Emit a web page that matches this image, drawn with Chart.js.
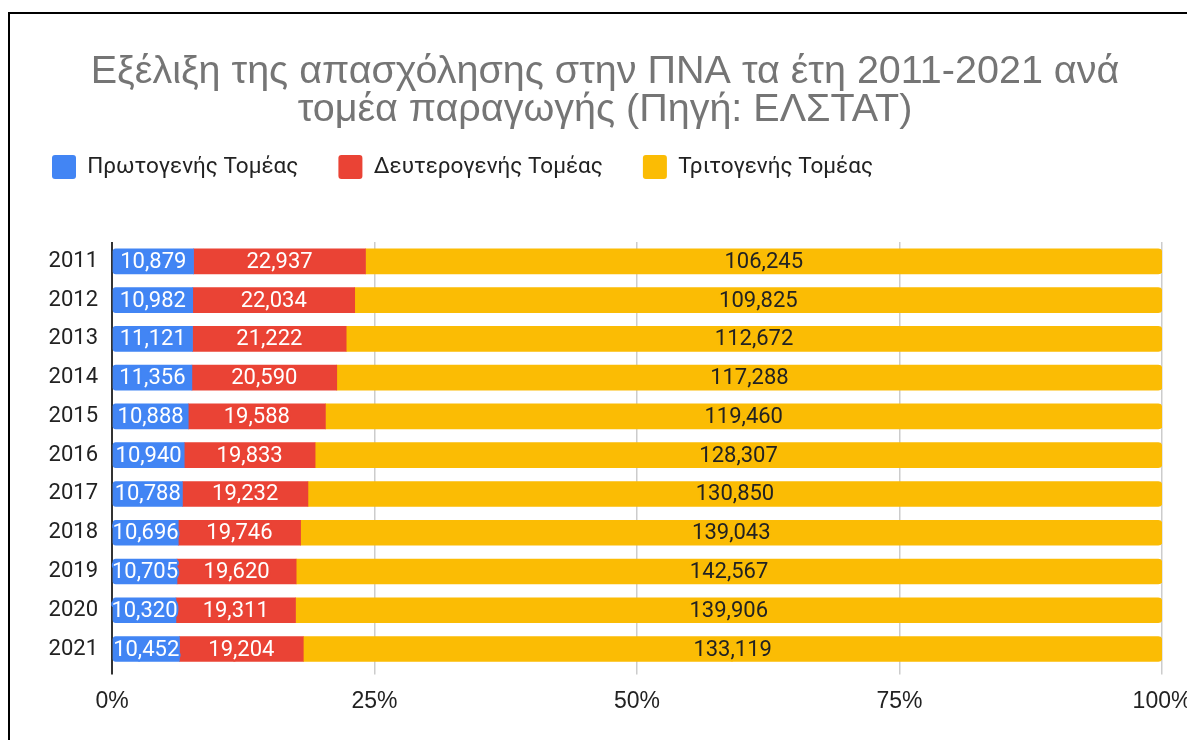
<!DOCTYPE html>
<html>
<head>
<meta charset="utf-8">
<script src="https://cdn.jsdelivr.net/npm/chart.js@4"></script>
<style>
  html, body { margin: 0; padding: 0; background: #fff; overflow: hidden; }
  .frame {
    position: absolute; left: 8px; top: 12px;
    width: 1200px; height: 726px;
    border-left: 2px solid #000; border-top: 2px solid #000;
  }
  canvas { display: block; }
</style>
</head>
<body>
<div class="frame"><canvas id="chart" width="1200" height="726"></canvas></div>
<script>
// Απασχόληση ανά τομέα (ΕΛΣΤΑΤ)
const years = ['2011', '2012', '2013', '2014', '2015', '2016', '2017', '2018', '2019', '2020', '2021'];
const primary = [10879, 10982, 11121, 11356, 10888, 10940, 10788, 10696, 10705, 10320, 10452];
const secondary = [22937, 22034, 21222, 20590, 19588, 19833, 19232, 19746, 19620, 19311, 19204];
const tertiary = [106245, 109825, 112672, 117288, 119460, 128307, 130850, 139043, 142567, 139906, 133119];
const seriesNames = ['Πρωτογενής Τομέας', 'Δευτερογενής Τομέας', 'Τριτογενής Τομέας'];
const xTicks = [0, 25, 50, 75, 100];

const colors = ['#4285F4', '#EA4335', '#FBBC04'];
const labelColors = ['#ffffff', '#ffffff', '#222222'];

// 100% stacked: μετατροπή σε ποσοστά
const totals = years.map((_, i) => primary[i] + secondary[i] + tertiary[i]);
const share = (arr) => arr.map((v, i) => v / totals[i] * 100);
const raw = [primary, secondary, tertiary];

const fmt = (n) => n.toLocaleString('en-US');

const barLabels = {
  id: 'barLabels',
  afterDatasetsDraw(chart) {
    const ctx = chart.ctx;
    ctx.save();
    ctx.font = '22px Roboto';
    ctx.textAlign = 'center';
    ctx.textBaseline = 'middle';
    ctx.lineJoin = 'round';
    chart.data.datasets.forEach((ds, di) => {
      const meta = chart.getDatasetMeta(di);
      meta.data.forEach((bar, i) => {
        const { x, y, base } = bar.getProps(['x', 'y', 'base'], true);
        const cx = (x + base) / 2;
        const txt = fmt(raw[di][i]);
        ctx.lineWidth = 4;
        ctx.strokeStyle = colors[di];
        ctx.strokeText(txt, cx, y + 1);
        ctx.fillStyle = labelColors[di];
        ctx.fillText(txt, cx, y + 1);
      });
    });
    ctx.restore();
  }
};

// extra space under the legend, title centred on the whole frame
const layoutTweaks = {
  id: 'layoutTweaks',
  beforeInit(chart) {
    const fit = chart.legend.fit;
    chart.legend.fit = function () {
      fit.bind(chart.legend)();
      this.height += 53;
    };
  },
  afterLayout(chart) {
    chart.titleBlock.left += 18;
    chart.titleBlock.right += 18;
  }
};

new Chart(document.getElementById('chart'), {
  type: 'bar',
  data: {
    labels: years,
    datasets: seriesNames.map((name, di) => ({
      label: name,
      data: share(raw[di]),
      backgroundColor: colors[di],
      borderWidth: 0,
      borderSkipped: false,
      borderRadius: di === 0 ? { topLeft: 3, bottomLeft: 3 } : di === 2 ? { topRight: 4, bottomRight: 4 } : 0,
      barThickness: 25,
    }))
  },
  options: {
    indexAxis: 'y',
    responsive: false,
    animation: false,
    layout: { padding: { left: 2, right: 48, top: 0, bottom: 12 } },
    plugins: {
      title: {
        display: true,
        text: ['Εξέλιξη της απασχόλησης στην ΠΝΑ τα έτη 2011-2021 ανά', 'τομέα παραγωγής (Πηγή: ΕΛΣΤΑΤ)'],
        color: '#757575',
        font: { family: 'Liberation Sans, Arial', size: 39.5, weight: 'normal', lineHeight: 0.962 },
        padding: { top: 39, bottom: -14 },
      },
      legend: {
        position: 'top',
        align: 'start',
        labels: {
          boxWidth: 24,
          boxHeight: 24,
          padding: 40,
          color: '#222',
          font: { family: 'Roboto', size: 22.5 },
          useBorderRadius: true,
          borderRadius: 3,
        }
      },
      tooltip: { enabled: false },
    },
    scales: {
      x: {
        stacked: true,
        min: 0,
        max: 100,
        afterBuildTicks(scale) { scale.ticks = xTicks.map((v) => ({ value: v })); },
        ticks: {
          callback: (v) => v + '%',
          color: '#222',
          font: { family: 'Liberation Sans, Arial', size: 23 },
          padding: 13,
          maxRotation: 0,
        },
        grid: {
          color: (c) => (c.tick && c.tick.value === 0 ? '#333' : '#ccc'),
          lineWidth: (c) => (c.tick && c.tick.value === 0 ? 2 : 1.5),
          tickLength: 6,
        },
        border: { display: false },
      },
      y: {
        stacked: true,
        afterFit(scale) { scale.width = 100; },
        ticks: {
          color: '#222',
          font: { family: 'Roboto', size: 22 },
          padding: 14,
        },
        grid: { display: false, drawTicks: false },
        border: { display: false },
      }
    }
  },
  plugins: [barLabels, layoutTweaks]
});
</script>
</body>
</html>
